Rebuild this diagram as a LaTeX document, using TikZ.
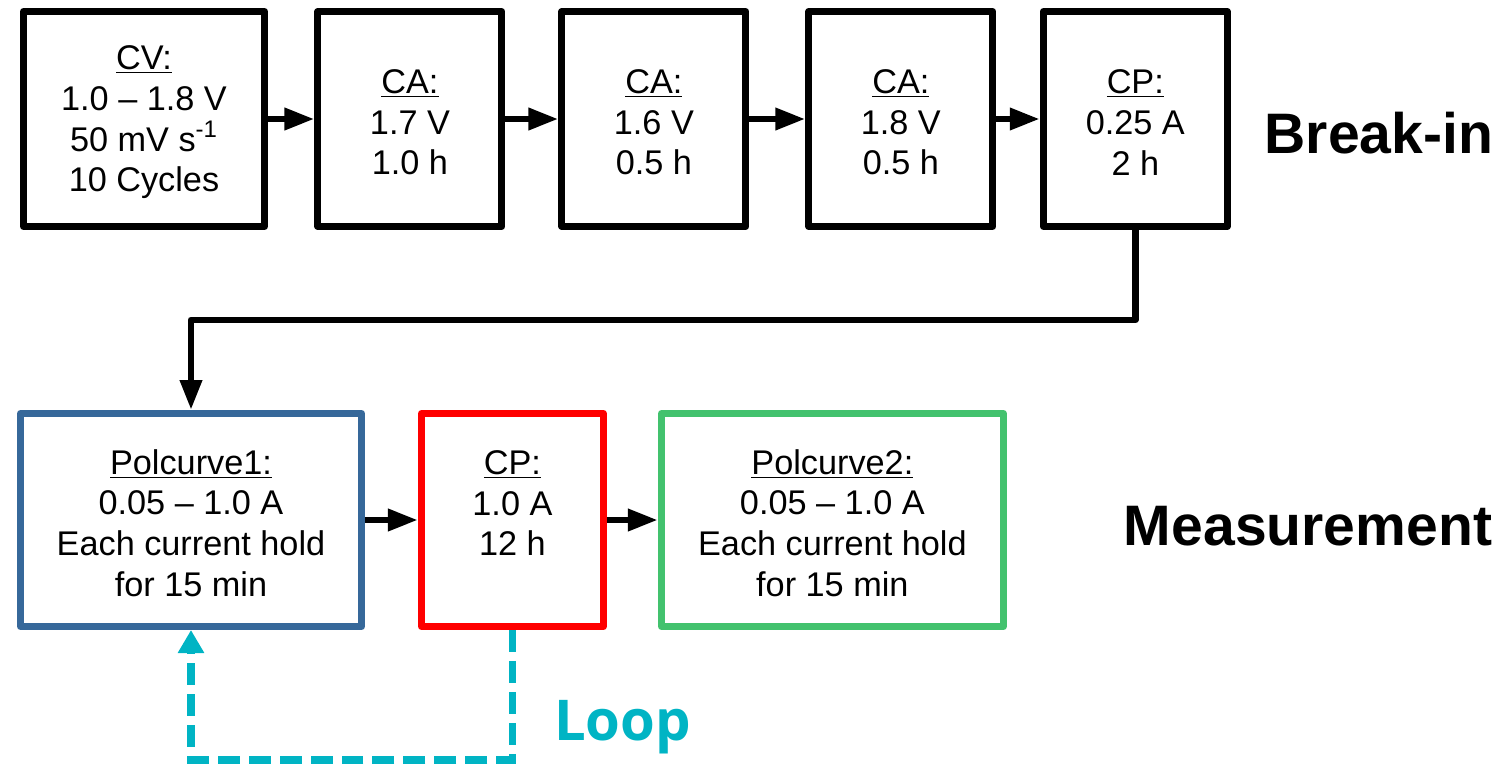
\documentclass[tikz,border=0pt]{standalone}
\usepackage{fontspec}
\setmainfont{Liberation Sans}
\newfontfamily\loopfont{Open Sans}
\usetikzlibrary{arrows.meta}

\definecolor{polblue}{RGB}{54,104,154}
\definecolor{holdred}{RGB}{255,0,0}
\definecolor{polgreen}{RGB}{67,194,110}
\definecolor{loopcyan}{RGB}{0,180,196}

% underlined step title, set a little lower in the box
\newcommand{\stephead}[1]{\rule{0pt}{17.5pt}\underline{#1}}

\begin{document}
\begin{tikzpicture}[
    x=0.02cm,
    y=-0.02cm,
    stage/.style={
        rectangle,
        draw,
        line width=4pt,
        line join=round,
        minimum width=3.68cm,
        minimum height=4.3cm,
        inner sep=0pt,
        align=center,
        font=\fontsize{19.5}{23.2}\selectfont
    },
    meas/.style={
        stage,
        minimum height=4.26cm
    },
    arrow/.style={
        -{Triangle[length=0.6cm, width=0.42cm]},
        line width=3.8pt,
        line join=round
    },
    looparrow/.style={
        -{Triangle[length=0.46cm, width=0.5cm]},
        draw=loopcyan,
        line width=4.3pt,
        dash pattern=on 0.44cm off 0.18cm
    },
    phase/.style={
        anchor=base,
        font=\fontsize{32.5}{39}\selectfont\bfseries
    }
]
\useasboundingbox (0,0) rectangle (1511,765);

% Break-in steps
\node [stage, minimum width=4.82cm] (cv) at (144,119) {\stephead{CV:}\\1.0 – 1.8 V\\50 mV s\textsuperscript{-1}\\10 Cycles};
\node [stage, right of=cv, node distance=5.32cm] (ca1) {\stephead{CA:}\\1.7 V\\1.0 h};
\node [stage, right of=ca1, node distance=4.88cm] (ca2) {\stephead{CA:}\\1.6 V\\0.5 h};
\node [stage, right of=ca2, node distance=4.94cm] (ca3) {\stephead{CA:}\\1.8 V\\0.5 h};
\node [stage, right of=ca3, node distance=4.69cm] (cp1) {\stephead{CP:}\\0.25 A\\2 h};

\draw [arrow] (cv) -- (ca1);
\draw [arrow] (ca1) -- (ca2);
\draw [arrow] (ca2) -- (ca3);
\draw [arrow] (ca3) -- (cp1);

% Measurement steps
\node [meas, draw=polblue, minimum width=6.82cm] (pol1) at (191,520) {\stephead{Polcurve1:}\\0.05 – 1.0 A\\Each current hold\\for 15 min};
\node [meas, draw=holdred, minimum width=3.64cm, right of=pol1, node distance=6.43cm] (cp2) {\stephead{CP:}\\1.0 A\\12 h\\\mbox{}};
\node [meas, draw=polgreen, minimum width=6.84cm, right of=cp2, node distance=6.4cm] (pol2) {\stephead{Polcurve2:}\\0.05 – 1.0 A\\Each current hold\\for 15 min};

\draw [arrow] (pol1) -- (cp2);
\draw [arrow] (cp2) -- (pol2);

% Break-in to measurement
\draw [arrow] (cp1.south) -- ++(0,90) -| (pol1.north);

% Loop back
\draw [looparrow] (cp2.south) -- ++(0,130) -| (pol1.south);
\node [anchor=base west, text=loopcyan, font=\loopfont\fontsize{32}{38}\selectfont\bfseries] (looplabel) at (548,740) {Loop};

% Phase labels
\node [phase] (breakin) at (1379,153) {Break-in};
\node [phase] (measure) at (1308,545) {Measurement};

\end{tikzpicture}
\end{document}
